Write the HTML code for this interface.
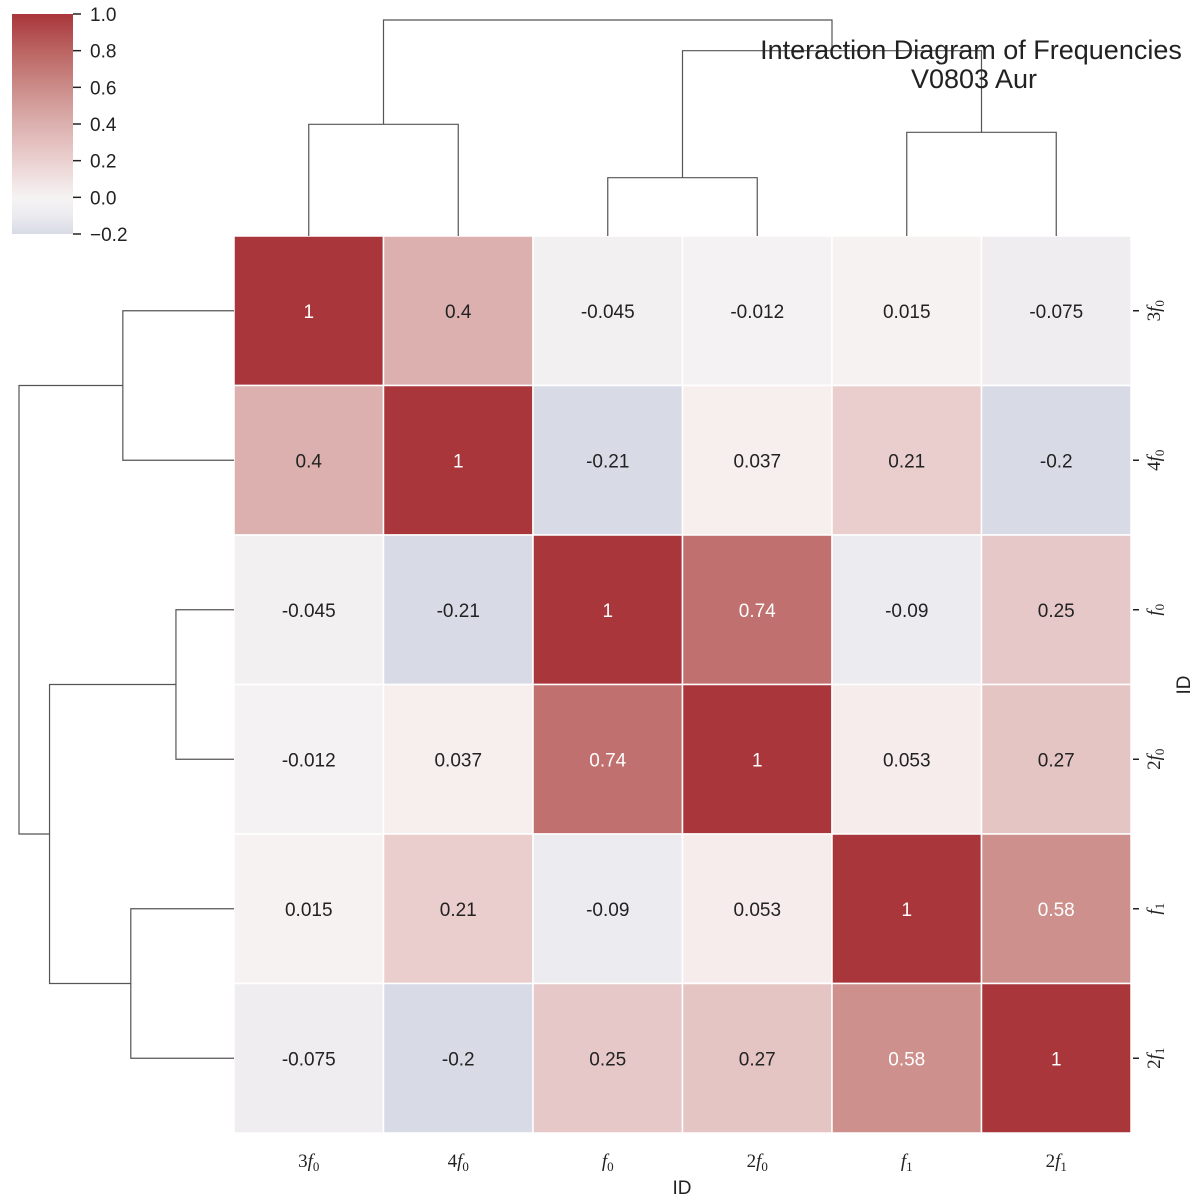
<!DOCTYPE html>
<html><head><meta charset="utf-8"><style>
body{margin:0;background:#fff}
svg{display:block;font-family:"Liberation Sans",sans-serif}
.m{font-family:"Liberation Serif","DejaVu Serif",serif;font-size:19px}
</style></head><body>
<svg id="c" width="1200" height="1203" viewBox="0 0 1200 1203" xmlns="http://www.w3.org/2000/svg">
<defs><linearGradient id="cbg" x1="0" y1="1" x2="0" y2="0">
<stop offset="0" stop-color="#d8dbe5"/><stop offset="0.0833" stop-color="#ebebef"/><stop offset="0.1667" stop-color="#f6f3f3"/><stop offset="0.3333" stop-color="#ebd0d0"/><stop offset="0.5" stop-color="#dbb0ae"/><stop offset="0.6667" stop-color="#cb8c89"/><stop offset="0.8333" stop-color="#bb6462"/><stop offset="1" stop-color="#a9363b"/></linearGradient></defs>
<g id="heat"></g>
<g id="dtop" stroke="#555" stroke-width="1.2" fill="none"></g>
<g id="dleft" stroke="#555" stroke-width="1.2" fill="none"></g>
<g>
<rect x="12" y="14" width="61" height="220" fill="url(#cbg)"/>
<g id="cbt"></g></g>
<g font-size="27" fill="#222" text-anchor="middle">
<text x="971" y="59">Interaction Diagram of Frequencies</text>
<text x="974" y="88">V0803 Aur</text></g>
<text x="682" y="1194" font-size="19" text-anchor="middle" fill="#222">ID</text>
<text transform="translate(1190,685) rotate(-90)" font-size="19" text-anchor="middle" fill="#222">ID</text>
<g id="lbl"></g>
</svg>
<script>
const labels=[["3","0"],["4","0"],["","0"],["2","0"],["","1"],["2","1"]];
const categories=["3f0","4f0","f0","2f0","f1","2f1"];
const values=[
[1,0.4,-0.045,-0.012,0.015,-0.075],
[0.4,1,-0.21,0.037,0.21,-0.2],
[-0.045,-0.21,1,0.74,-0.09,0.25],
[-0.012,0.037,0.74,1,0.053,0.27],
[0.015,0.21,-0.09,0.053,1,0.58],
[-0.075,-0.2,0.25,0.27,0.58,1]];
const cellText=["1","0.4","-0.045","-0.012","0.015","-0.075","0.4","1","-0.21","0.037","0.21","-0.2","-0.045","-0.21","1","0.74","-0.09","0.25","-0.012","0.037","0.74","1","0.053","0.27","0.015","0.21","-0.09","0.053","1","0.58","-0.075","-0.2","0.25","0.27","0.58","1"];
const cbTicks=[1.0,0.8,0.6,0.4,0.2,0.0,-0.2];
// dendrogram merges: [leftNode,rightNode,height(0..1)]; leaves 0..5
const merges=[[0,1,0.517],[2,3,0.27],[4,5,0.48],[7,8,0.858],[6,9,1.0]];
const NS="http://www.w3.org/2000/svg";
const X0=234,Y0=236,CS=149.5,N=6;
const px=i=>X0+CS*i, py=i=>Y0+CS*i;
const stops=[[-0.2,[216,219,229]],[-0.1,[234,234,239]],[-0.05,[243,240,241]],[0,[246,243,243]],[0.04,[247,239,238]],[0.2,[235,208,208]],[0.4,[219,176,174]],[0.6,[203,140,137]],[0.8,[187,100,98]],[1,[169,54,59]]];
function col(v){for(let k=0;k<stops.length-1;k++){const[a,ca]=stops[k],[b,cb]=stops[k+1];if(v<=b||k==stops.length-2){let t=Math.max(0,Math.min(1,(v-a)/(b-a)));return`rgb(${ca.map((c,j)=>Math.round(c+(cb[j]-c)*t)).join(",")})`;}}}
function mk(t,a,p){const e=document.createElementNS(NS,t);for(const k in a)e.setAttribute(k,a[k]);p.appendChild(e);return e;}
const heat=document.getElementById('heat');
for(let r=0;r<N;r++)for(let c=0;c<N;c++){const v=values[r][c];
const re=mk('rect',{x:px(c),y:py(r),width:CS,height:CS,fill:col(v),stroke:'#fff','stroke-width':1.5},heat);


const t=mk('text',{x:px(c)+CS/2,y:py(r)+CS/2+7,'text-anchor':'middle','font-size':19,fill:v>0.55?'#fff':'#222'},heat);
t.textContent=cellText[r*N+c];

}
const cbt=document.getElementById('cbt');
const cby=v=>14+(1-v)/1.2*220;
cbTicks.forEach(v=>{mk('line',{x1:73,x2:81,y1:cby(v),y2:cby(v),stroke:'#222','stroke-width':1.5},cbt);
const t=mk('text',{x:90,y:cby(v)+7,'font-size':19,fill:'#222'},cbt);t.textContent=(v<0?'\u2212':'')+Math.abs(v).toFixed(1);

});
const lbl=document.getElementById('lbl');
function lab(parent,x,y,L,rot){const t=mk('text',{x:x,y:y,'text-anchor':'middle',class:'m',fill:'#222'},parent);
if(rot)t.setAttribute('transform',`rotate(-90 ${x} ${y})`);
if(L[0]){const a=mk('tspan',{},t);a.textContent=L[0];}
const f=mk('tspan',{'font-style':'italic'},t);f.textContent='f';
const s=mk('tspan',{'font-size':13,dy:4},t);s.textContent=L[1];return t;}
labels.forEach((L,i)=>{const t=lab(lbl,px(i)+CS/2,1167,L,false);


const cy=py(i)+CS/2;
mk('line',{x1:1133,x2:1139,y1:cy,y2:cy,stroke:'#222','stroke-width':1.5},lbl);
const t2=lab(lbl,1160,cy,L,true);

});
// dendrograms
function dendro(g,horizontal){const pos=[],ht=[];for(let i=0;i<N;i++){pos.push(i*CS+CS/2);ht.push(0);}
const hscale=216;
merges.forEach(([a,b,h])=>{const pa=pos[a],pb=pos[b],ha=ht[a],hb=ht[b];
let d;if(!horizontal){const f=v=>236-v*hscale;d=`M${X0+pa},${f(ha)}V${f(h)}H${X0+pb}V${f(hb)}`;}
else{const f=v=>234-v*215;d=`M${f(ha)},${Y0+pa}H${f(h)}V${Y0+pb}H${f(hb)}`;}
const p=mk('path',{d:d},g);
pos.push((pa+pb)/2);ht.push(h);});}
dendro(document.getElementById('dtop'),false);
dendro(document.getElementById('dleft'),true);
</script>
</body></html>
